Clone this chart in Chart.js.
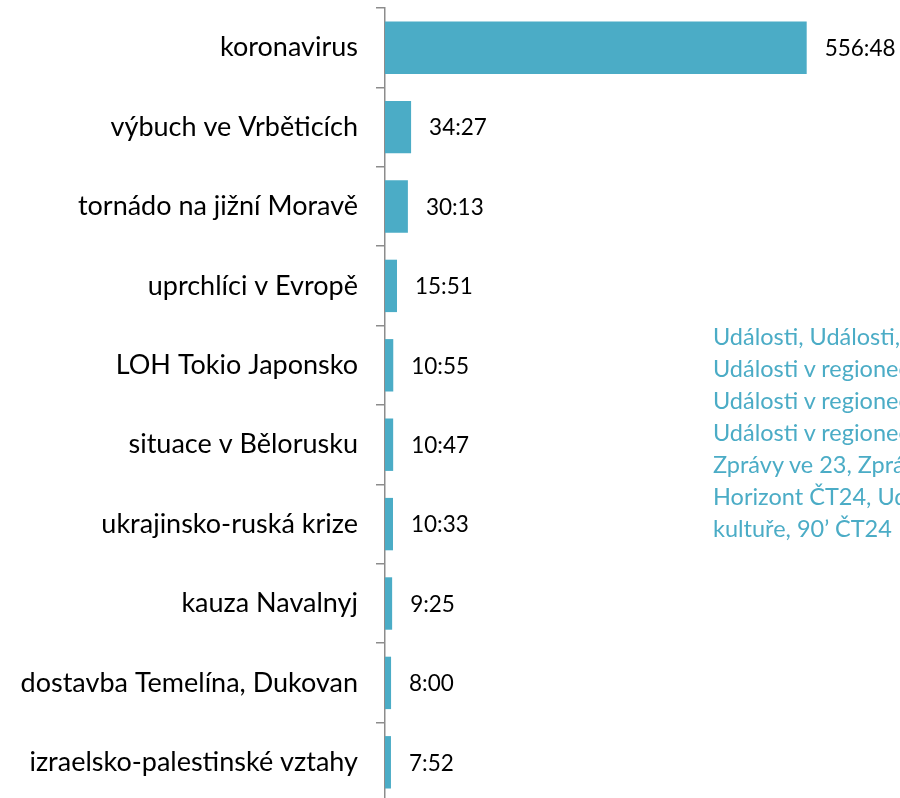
<!DOCTYPE html>
<html>
<head>
<meta charset="utf-8">
<script src="https://cdn.jsdelivr.net/npm/chart.js@4"></script>
<style>
  html, body { margin: 0; padding: 0; width: 900px; height: 798px; overflow: hidden; background: #fff; }
  .chart-wrap { position: absolute; left: 0; top: 0; width: 900px; height: 812px; }
  .note {
    position: absolute; left: 713px; top: 320px;
    font-family: Lato, sans-serif; font-size: 23.5px; line-height: 32px;
    color: #4bacc6; white-space: nowrap;
  }
</style>
</head>
<body>
<div class="chart-wrap"><canvas id="c"></canvas></div>
<div class="note">
  Události, Události, komentáře,<br>
  Události v regionech,<br>
  Události v regionech plus,<br>
  Události v regionech Brno,<br>
  Zprávy ve 23, Zprávy ve 12,<br>
  Horizont ČT24, Události v<br>
  kultuře, 90’ ČT24
</div>
<script>
const topics = [
  'koronavirus',
  'výbuch ve Vrběticích',
  'tornádo na jižní Moravě',
  'uprchlíci v Evropě',
  'LOH Tokio Japonsko',
  'situace v Bělorusku',
  'ukrajinsko-ruská krize',
  'kauza Navalnyj',
  'dostavba Temelína, Dukovan',
  'izraelsko-palestinské vztahy'
];
// stopáž v sekundách (mm:ss)
const seconds = [33408, 2067, 1813, 951, 655, 647, 633, 565, 480, 472];

const fmt = s => Math.floor(s / 60) + ':' + String(s % 60).padStart(2, '0');

const valueLabels = {
  id: 'valueLabels',
  afterDatasetsDraw(chart) {
    const ctx = chart.ctx;
    const meta = chart.getDatasetMeta(0);
    ctx.save();
    ctx.font = '22.5px Lato, sans-serif';
    ctx.fillStyle = '#000';
    ctx.textAlign = 'left';
    ctx.textBaseline = 'middle';
    meta.data.forEach((bar, i) => {
      ctx.fillText(fmt(seconds[i]), bar.x + 18, bar.y + 1);
    });
    ctx.restore();
  }
};

new Chart(document.getElementById('c'), {
  type: 'bar',
  data: {
    labels: topics,
    datasets: [{
      data: seconds,
      backgroundColor: '#4bacc6',
      barPercentage: 0.66,
      categoryPercentage: 1
    }]
  },
  options: {
    indexAxis: 'y',
    responsive: true,
    maintainAspectRatio: false,
    animation: false,
    layout: { padding: { top: 8, bottom: 10, left: 0, right: 0 } },
    plugins: { legend: { display: false }, tooltip: { enabled: false } },
    scales: {
      x: { display: false, min: 0, max: 40800 },
      y: {
        afterFit: s => { s.width = 385; s.paddingTop = 0; s.paddingBottom = 0; },
        border: { display: true, color: '#8c8c8c', width: 1.5 },
        grid: { offset: true, drawOnChartArea: false, drawTicks: true, tickLength: 9, color: '#8c8c8c', lineWidth: 1.5 },
        ticks: { color: '#000', padding: 18, font: { family: 'Lato, sans-serif', size: 27 } }
      }
    }
  },
  plugins: [valueLabels]
});
</script>
</body>
</html>
